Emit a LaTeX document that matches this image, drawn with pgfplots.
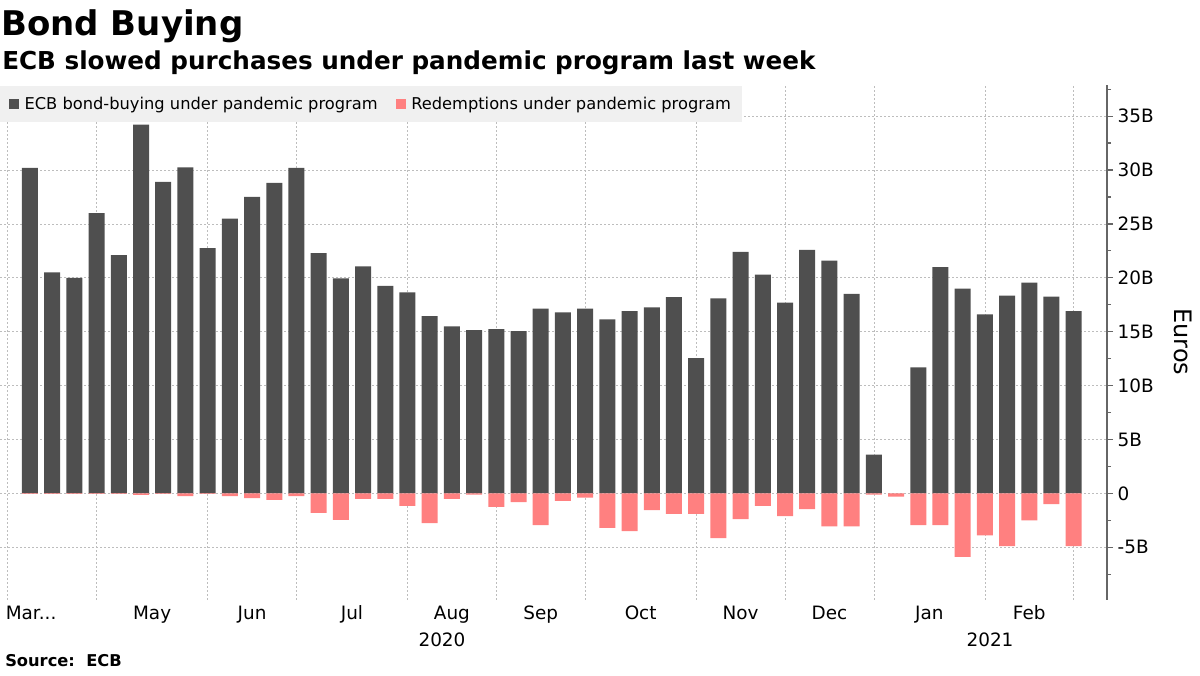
\documentclass[border=0pt]{standalone}
\usepackage{pgfplots}
\pgfplotsset{compat=1.18}
\usepackage{pgfplotstable}
\usepackage{fontspec}
\setmainfont{DejaVu Sans}
\newfontfamily\titlefont{DejaVu Sans Bold}
\definecolor{darkbar}{HTML}{4F4F4F}
\definecolor{redbar}{HTML}{FF8080}
\definecolor{legbg}{HTML}{F0F0F0}
\definecolor{gridgray}{HTML}{BDBDBD}
\definecolor{axisgray}{HTML}{666666}

\pgfplotstableread{
i v
0 30.2
1 20.5
2 20.0
3 26.0
4 22.1
5 34.2
6 28.9
7 30.25
8 22.75
9 25.5
10 27.5
11 28.8
12 30.2
13 22.3
14 19.95
15 21.05
16 19.25
17 18.65
18 16.45
19 15.5
20 15.15
21 15.25
22 15.05
23 17.15
24 16.8
25 17.15
26 16.15
27 16.9
28 17.25
29 18.2
30 12.55
31 18.1
32 22.4
33 20.3
34 17.7
35 22.6
36 21.6
37 18.5
38 3.6
39 0
40 11.7
41 21.0
42 19.0
43 16.6
44 18.35
45 19.55
46 18.25
47 16.9
}\buying

\pgfplotstableread{
i v
0 -0.05
1 -0.05
2 -0.05
3 -0.05
4 -0.05
5 -0.15
6 -0.05
7 -0.25
8 -0.05
9 -0.25
10 -0.45
11 -0.6
12 -0.25
13 -1.8
14 -2.45
15 -0.5
16 -0.5
17 -1.15
18 -2.75
19 -0.5
20 -0.12
21 -1.25
22 -0.8
23 -2.95
24 -0.7
25 -0.4
26 -3.2
27 -3.5
28 -1.55
29 -1.9
30 -1.9
31 -4.15
32 -2.4
33 -1.15
34 -2.1
35 -1.45
36 -3.05
37 -3.05
38 -0.12
39 -0.3
40 -2.95
41 -2.95
42 -5.9
43 -3.9
44 -4.9
45 -2.5
46 -1.0
47 -4.9
}\redemptions

\begin{document}
\begin{tikzpicture}[x=0.75pt,y=0.75pt]
\path[use as bounding box] (0,0) rectangle (1200,675);

\begin{axis}[
  at={(0,70)}, anchor=south west, scale only axis,
  width=830.25pt, height=386.25pt,
  xmin=-1.35, xmax=48.5, ymin=-9.85, ymax=37.93,
  axis y line*=right, axis x line*=bottom,
  x axis line style={draw=none},
  y axis line style={draw=axisgray, line width=0.9pt},
  xtick={-1,3,8,12,17,21,25,30,34,38,43,47},
  xticklabels={},
  major x tick style={draw=none},
  xmajorgrids, ymajorgrids,
  grid style={gridgray, dash pattern=on 1.5pt off 1.5pt, line width=0.5pt},
  extra x ticks={0.05,5.5,10,14.5,19,23,27.5,32,36,40.5,45},
  extra x tick labels={{Mar{.}{.}{.}},May,Jun,Jul,Aug,Sep,Oct,Nov,Dec,Jan,Feb},
  extra x tick style={grid=none, major tick length=0pt, tick style={draw=none}},
  ytick={-5,0,5,10,15,20,25,30,35},
  yticklabels={-5B,0,5B,10B,15B,20B,25B,30B,35B},
  minor ytick={-7.5,-2.5,2.5,7.5,12.5,17.5,22.5,27.5,32.5,37.5},
  tick align=outside,
  major tick length=4.5pt, minor tick length=3pt,
  y tick style={axisgray, line width=0.9pt},
  ticklabel style={font=\fontsize{13.8}{16}\selectfont, text=black},
  xticklabel style={yshift=-1pt},
  legend style={at={(0,1)}, anchor=north west, yshift=-1pt, xshift=0pt,
    fill=legbg, draw=none, legend columns=2,
    font=\fontsize{12.2}{14}\selectfont, inner xsep=6.5pt, inner ysep=6pt,
    /tikz/every even column/.append style={column sep=11.5pt}},
  legend cell align=left,
]
\addplot[ybar, bar width=12pt, bar shift=0pt, fill=darkbar, draw=none,
  legend image code/.code={\fill[darkbar] (0pt,-3.75pt) rectangle (7.5pt,3.75pt); \path (9.75pt,0pt);}]
  table[x=i, y=v] {\buying};
\addlegendentry{ECB bond-buying under pandemic program}
\addplot[ybar, bar width=12pt, bar shift=0pt, fill=redbar, draw=none,
  legend image code/.code={\fill[redbar] (0pt,-3.75pt) rectangle (7.5pt,3.75pt); \path (9.75pt,0pt);}]
  table[x=i, y=v] {\redemptions};
\addlegendentry{Redemptions under pandemic program}
\end{axis}

\node[anchor=base west, inner sep=0pt] at (1,639) {\titlefont\fontsize{25.5}{30}\selectfont Bond Buying};
\node[anchor=base west, inner sep=0pt] at (2,605) {\bfseries\fontsize{18.5}{22}\selectfont ECB slowed purchases under pandemic program last week};
\node[rotate=-90, inner sep=0pt] at (1183,333) {\fontsize{18}{21}\selectfont Euros};
\node[inner sep=0pt] at (442,35) {\fontsize{13.8}{16}\selectfont 2020};
\node[inner sep=0pt] at (990,35) {\fontsize{13.8}{16}\selectfont 2021};
\node[anchor=base west, inner sep=0pt] at (5,8) {\bfseries\fontsize{12.2}{14}\selectfont Source:\ \ ECB};
\end{tikzpicture}
\end{document}
